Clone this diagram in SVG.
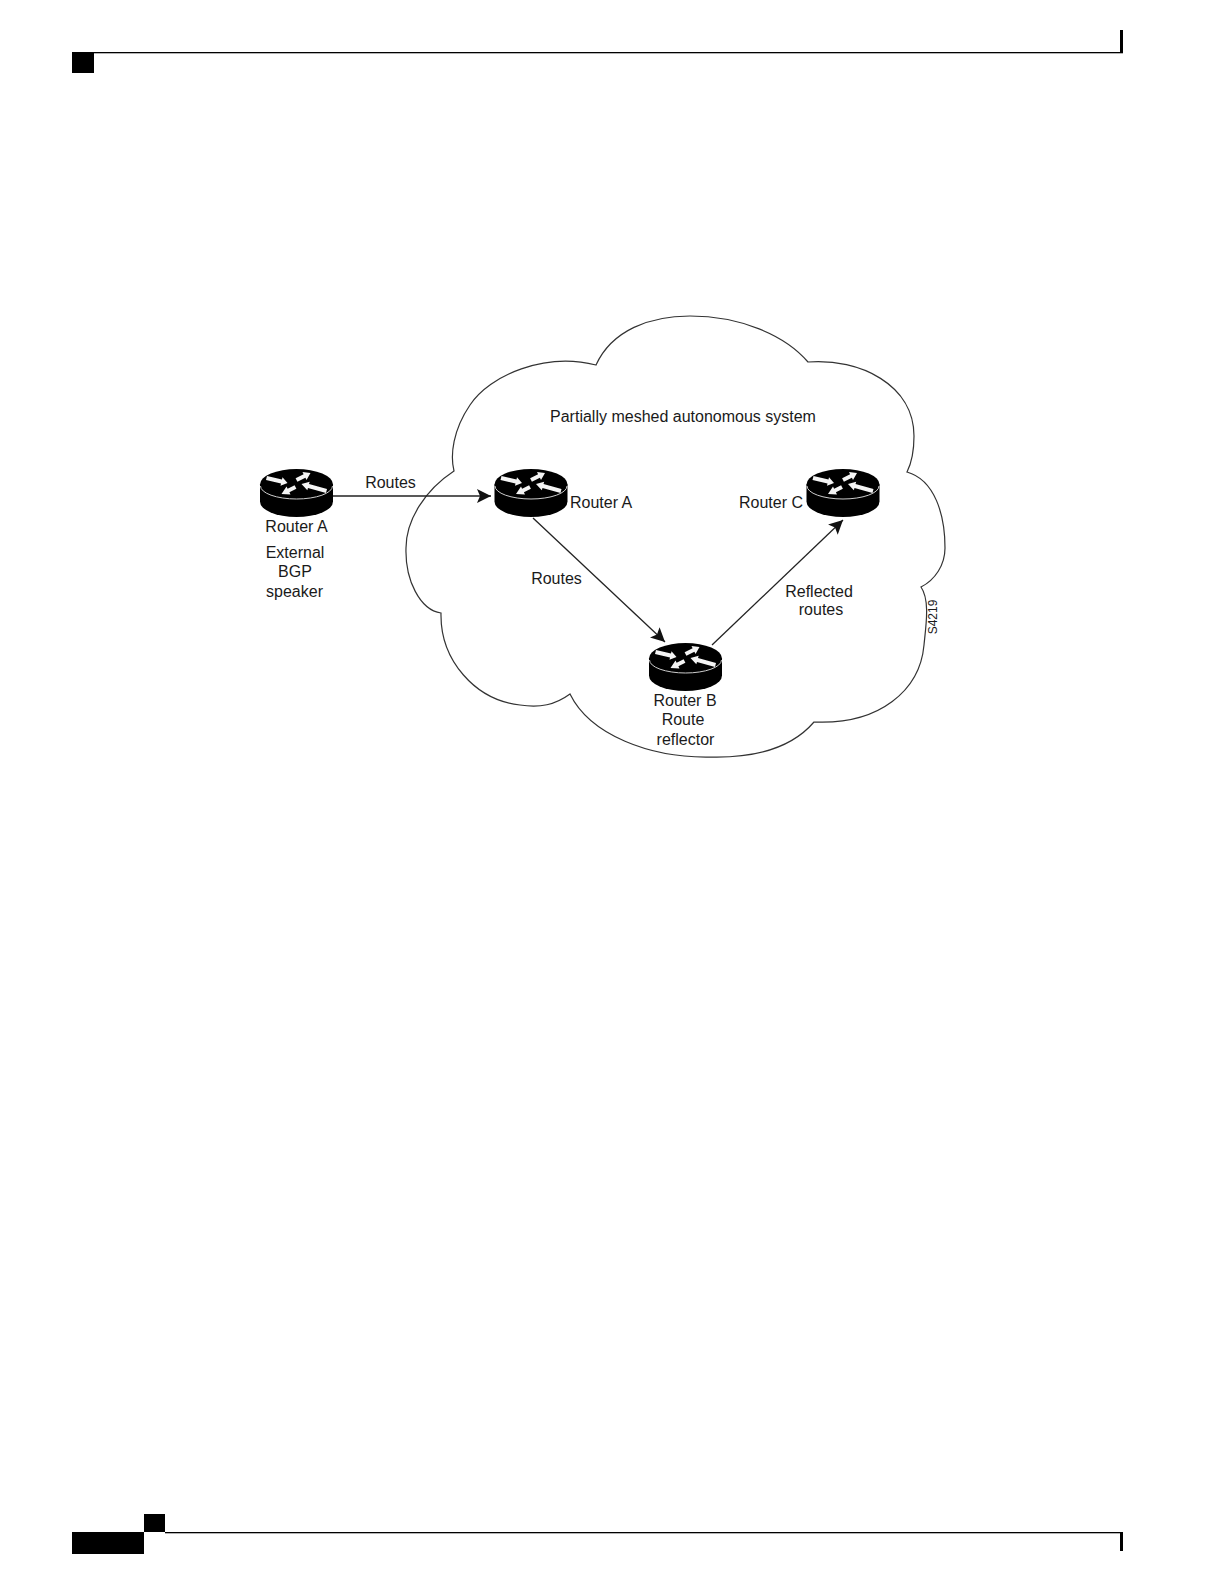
<svg xmlns="http://www.w3.org/2000/svg" xmlns:xlink="http://www.w3.org/1999/xlink" width="1224" height="1584" viewBox="0 0 1224 1584">
<style>
text{font-family:"Liberation Sans",Arial,sans-serif;font-size:16px;fill:#1a1a1a}
.m{text-anchor:middle}
.edge{stroke:#222;stroke-width:1.3;fill:none;marker-end:url(#ah)}
.cloud{fill:none;stroke:#333;stroke-width:1.2}
.page{fill:#000}
</style>
<defs>
<marker id="ah" markerUnits="userSpaceOnUse" markerWidth="15" markerHeight="14" refX="14" refY="7" orient="auto"><path d="M0 0L14 7L0 14L3 7Z" fill="#111"/></marker>
<g id="router">
<path d="M-36.500 0V17A36.500 15.500 0 0 0 36.500 17V0Z" fill="#000"/>
<ellipse rx="36.500" ry="15.500" fill="#000"/>
<path d="M-36 1.500A36 13 0 0 0 36 1.500" fill="none" stroke="#ccc" stroke-width="1"/>
<path transform="translate(0,3.500)" d="M-29.500-12L-14.500-8.500L-14-10.800L-9-5L-16-2.200L-15.500-4.500L-30.500-8Z M-.9-9.800L7.100-13.800L6-16L14-15L10-8L8.900-10.200L.9-6.200Z M30.500 1.100L12.500-3.900L13.200-6.300L5-4L10.800 2.300L11.500-.1L29.500 4.900Z M-1.900-2.800L-8.900.7L-10-1.500L-15 6L-6 6.500L-7.100 4.300L-.1.800Z" fill="#f4f4f4"/>
</g>
</defs>
<g id="page">
<rect class="page" x="72" y="52" width="1051" height="1.300"/>
<rect class="page" x="72" y="52" width="22" height="21"/>
<rect class="page" x="1120" y="30" width="3" height="23"/>
<rect class="page" x="165" y="1532" width="958" height="1.300"/>
<rect class="page" x="72" y="1532" width="72" height="22"/>
<rect class="page" x="144" y="1514" width="21" height="18"/>
<rect class="page" x="1120" y="1532" width="3" height="19"/>
</g>
<g id="cloud"><path class="cloud" d="M596 365C612 330 650 316 690 316C740 316 785 335 808 362C860 358 914 385 914 436C914 450 912 462 907 472C935 480 945 515 945 548C945 565 935 580 921 587C930 600 926 625 924 645C920 690 880 725 814 722C790 750 750 758 710 757C650 758 590 735 570 694C555 705 540 708 520 705C475 700 440 660 441 613C420 610 405 580 406 548C406 520 425 490 454 471C450 455 453 430 470 405C490 375 545 352 596 365Z"/></g>
<g id="connectors">
<path class="edge" d="M333 496H491"/>
<path class="edge" d="M533 518L665 642"/>
<path class="edge" d="M712 645L843 520"/>
</g>
<g id="router-a-external"><use xlink:href="#router" href="#router" x="296.500" y="484.500"/>
<text class="m" x="296.500" y="532">Router A</text>
<text class="m" x="295" y="558">External</text>
<text class="m" x="295" y="577">BGP</text>
<text class="m" x="294.500" y="597">speaker</text></g>
<g id="router-a"><use xlink:href="#router" href="#router" x="531" y="484.500"/>
<text x="570" y="508">Router A</text></g>
<g id="router-c"><use xlink:href="#router" href="#router" x="843" y="484.500"/>
<text x="739" y="508">Router C</text></g>
<g id="router-b"><use xlink:href="#router" href="#router" x="685.500" y="658.500"/>
<text class="m" x="685" y="706">Router B</text>
<text class="m" x="683" y="725">Route</text>
<text class="m" x="685.500" y="745">reflector</text></g>
<g id="labels">
<text class="m" x="683" y="422">Partially meshed autonomous system</text>
<text class="m" x="390.500" y="488">Routes</text>
<text class="m" x="556.500" y="584">Routes</text>
<text class="m" x="819" y="597">Reflected</text>
<text class="m" x="821" y="615">routes</text>
<text class="m" transform="translate(937,617) rotate(-90)" style="font-size:12px">S4219</text>
</g>
</svg>
